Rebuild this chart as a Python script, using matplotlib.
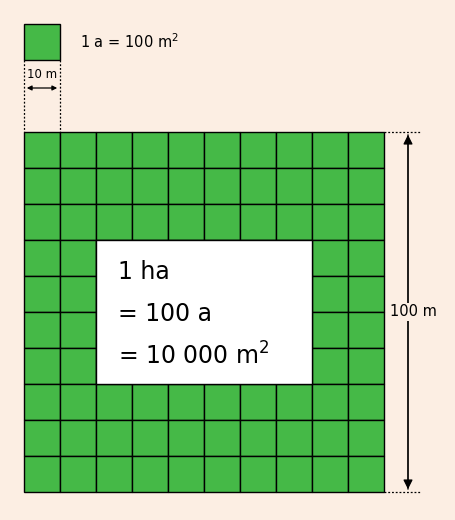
import matplotlib
matplotlib.use("Agg")
import matplotlib.pyplot as plt
from matplotlib.patches import Rectangle

# data
n_cells = 10
cell_label = "1 a = 100 m$^2$"
side_small = "10 m"
side_big = "100 m"
box_lines = ["1 ha", "= 100 a", "= 10 000 m$^2$"]

bg = "#FCEEE3"
green = "#45B947"
fig = plt.figure(figsize=(4.56, 5.20), dpi=100, facecolor=bg)
ax = fig.add_axes([0, 0, 1, 1])
ax.set_xlim(0, 456); ax.set_ylim(520, 0); ax.axis("off")
ax.set_facecolor(bg)

c = 36
x0, y0 = 24, 132
for i in range(n_cells):
    for j in range(n_cells):
        ax.add_patch(Rectangle((x0 + i*c, y0 + j*c), c, c, fc=green, ec="black", lw=1))
ax.add_patch(Rectangle((96, 240), 216, 144, fc="white", ec="black", lw=1))
for k, t in enumerate(box_lines):
    ax.text(118, 272 + k*42, t, fontsize=17, va="center", ha="left")

# small square
ax.add_patch(Rectangle((24, 24), c, c, fc=green, ec="black", lw=1))
ax.text(80, 42, cell_label, fontsize=10.5, va="center")
for xx in (24, 60):
    ax.plot([xx, xx], [60, 132], ls=(0, (1.5, 1.5)), color="black", lw=0.9)
ax.annotate("", xy=(24, 88), xytext=(60, 88),
            arrowprops=dict(arrowstyle="<|-|>", color="black", lw=0.9, mutation_scale=7))
ax.text(42, 75, side_small, fontsize=8.5, ha="center", va="center")

# big dimension
for yy in (132, 492):
    ax.plot([384, 420], [yy, yy], ls=(0, (1.5, 1.5)), color="black", lw=0.9)
ax.annotate("", xy=(408, 132), xytext=(408, 492),
            arrowprops=dict(arrowstyle="-|>", color="black", lw=0.9, mutation_scale=14))
ax.annotate("", xy=(408, 492), xytext=(408, 132),
            arrowprops=dict(arrowstyle="-|>", color="black", lw=0.9, mutation_scale=14))
ax.text(413, 312, side_big, fontsize=10.5, ha="center", va="center",
        bbox=dict(fc=bg, ec="none", pad=1))

fig.savefig("out.png", dpi=100, facecolor=bg)
